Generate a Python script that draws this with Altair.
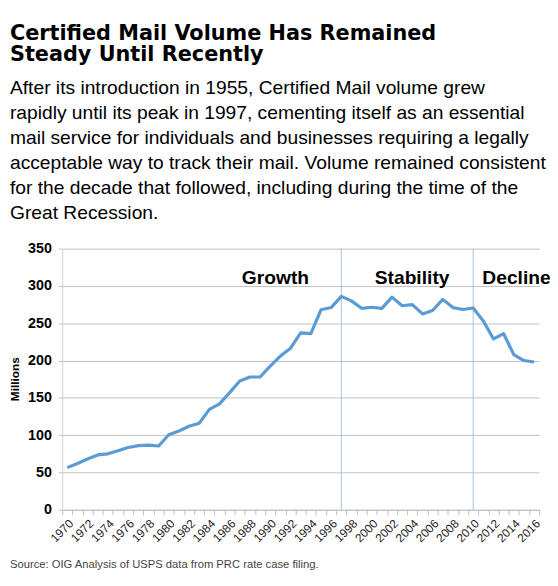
import altair as alt
import pandas as pd

# ---- data ----
years = list(range(1970, 2017))
volume = [56.5, 62, 68, 73.5, 75, 79, 83.5, 86, 86.7, 85.5,
          100.5, 105.5, 112, 116, 134.5, 142, 157, 172.5, 178, 178,
          192.5, 206, 216.5, 237, 236, 268, 271, 286, 280, 270,
          271.5, 270, 285, 273.5, 275, 262.5, 267, 282, 271, 268.5,
          270.5, 253, 229, 236, 208, 200, 198]

phase_labels = ["Growth", "Stability", "Decline"]
phase_x = [1987.2, 2000.3, 2010.9]
phase_y = [302, 302, 302]

divider_years = [1997, 2010]
divider_top = [350, 350]
divider_bottom = [0, 0]
y_ticks = [0, 50, 100, 150, 200, 250, 300, 350]
even_years = list(range(1970, 2017, 2))
half_years = [y - 0.5 for y in range(1970, 2018)]
x_start, x_end = 1969.5, 2016.5

title_lines = ["Certified Mail Volume Has Remained", "Steady Until Recently"]
subtitle_lines = [
    "After its introduction in 1955, Certified Mail volume grew",
    "rapidly until its peak in 1997, cementing itself as an essential",
    "mail service for individuals and businesses requiring a legally",
    "acceptable way to track their mail. Volume remained consistent",
    "for the decade that followed, including during the time of the",
    "Great Recession.",
]
y_title = "Millions"
source_text = "Source: OIG Analysis of USPS data from PRC rate case filing."

# ---- tables ----
df = pd.DataFrame({"year": years, "volume": volume})
phases = pd.DataFrame({"label": phase_labels, "x": phase_x, "y": phase_y})
dividers = pd.DataFrame({"year": divider_years, "top": divider_top, "bottom": divider_bottom})
one = pd.DataFrame({"k": [0]})

FONT = "Liberation Sans"
GRID = "#c0c0c0"
x_scale = alt.Scale(domain=[x_start, x_end], nice=False, zero=False)
y_scale = alt.Scale(domain=[0, 350], nice=False, zero=True)

x_axis = alt.Axis(
    values=half_years + even_years,
    labelExpr="datum.value % 1 === 0 ? datum.value + '' : ''",
    tickOpacity={"condition": {"test": "datum.value % 1 !== 0", "value": 1}, "value": 0},
    labelAngle=-45,
    labelFont=FONT,
    labelFontSize=12,
    labelColor="#1a1a1a",
    labelOverlap=False,
    labelFlush=False,
    labelPadding=3,
    tickSize=5,
    tickColor="#bfbfbf",
    domainColor="#bfbfbf",
    grid=False,
    title=None,
)
y_axis = alt.Axis(
    values=y_ticks,
    grid=True,
    gridColor=GRID,
    gridOpacity=1,
    gridWidth=1,
    domainColor="#d0d0d0",
    tickColor=GRID,
    tickSize=4,
    labelFont=FONT,
    labelFontSize=14.5,
    labelFontWeight="bold",
    labelColor="black",
    labelPadding=7,
    labelOverlap=False,
    labelFlush=False,
    title=None,
)

rules = alt.Chart(dividers).mark_rule(color="#9dc3e6", strokeWidth=1).encode(
    x=alt.X("year:Q", scale=x_scale, axis=x_axis),
    y=alt.Y("top:Q", scale=y_scale, axis=y_axis),
    y2="bottom:Q",
)

line = alt.Chart(df).mark_line(color="#5b9bd5", strokeWidth=3.2, strokeJoin="round").encode(
    x=alt.X("year:Q", scale=x_scale, axis=x_axis),
    y=alt.Y("volume:Q", scale=y_scale, axis=y_axis),
)

phase_text = alt.Chart(phases).mark_text(
    font=FONT, fontSize=19.5, fontWeight="bold", color="black", align="left", baseline="alphabetic"
).encode(
    x=alt.X("x:Q", scale=x_scale, axis=x_axis),
    y=alt.Y("y:Q", scale=y_scale, axis=y_axis),
    text="label:N",
)

title1 = alt.Chart(one).mark_text(
    font="DejaVu Sans", fontSize=21.1, fontWeight="bold", color="black", align="left",
    baseline="alphabetic",
).encode(x=alt.value(-53), y=alt.value(-212), text=alt.value(title_lines[0]))

title2 = alt.Chart(one).mark_text(
    font="DejaVu Sans", fontSize=21.1, fontWeight="bold", color="black", align="left",
    baseline="alphabetic",
).encode(x=alt.value(-53), y=alt.value(-190), text=alt.value(title_lines[1]))

subtitle = alt.Chart(one).mark_text(
    font=FONT, fontSize=19.5, color="black", align="left",
    baseline="alphabetic", lineHeight=25.4,
).encode(x=alt.value(-53), y=alt.value(-157), text=alt.value(subtitle_lines))

ytitle = alt.Chart(one).mark_text(
    font=FONT, fontSize=12, fontWeight="bold", color="black", align="center",
    baseline="middle", angle=270,
).encode(x=alt.value(-48), y=alt.value(132.5), text=alt.value(y_title))

source = alt.Chart(one).mark_text(
    font=FONT, fontSize=11.4, color="#444444", align="left", baseline="alphabetic",
).encode(x=alt.value(-53), y=alt.value(324), text=alt.value(source_text))

chart = alt.layer(rules, line, phase_text, title1, title2, subtitle, ytitle, source).properties(
    width=484,
    height=265,
    autosize=alt.AutoSizeParams(type="none"),
    padding={"left": 55, "top": 240, "right": 11, "bottom": 62},
    background="white",
).configure_view(stroke=None)

chart.save("out.html", embed_options={"renderer": "svg", "actions": False})
